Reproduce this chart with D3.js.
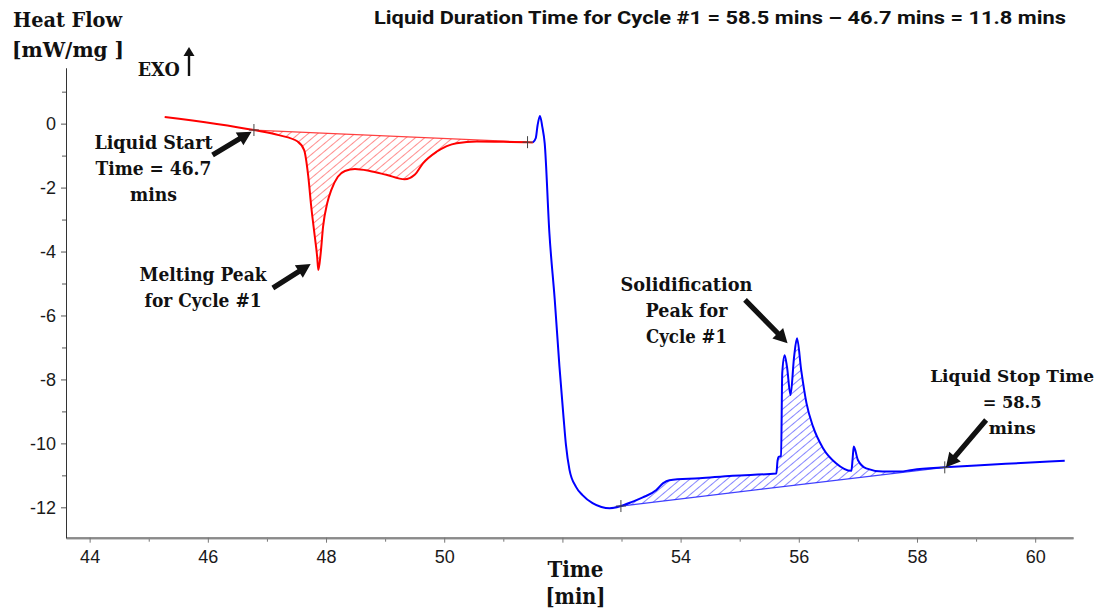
<!DOCTYPE html>
<html>
<head>
<meta charset="utf-8">
<script src="https://cdn.jsdelivr.net/npm/d3@7"></script>
<style>
body { margin: 0; background: white; }
</style>
</head>
<body>
<script>
// heating trace (red) and cooling trace (blue): time [min], heat flow [mW/mg]
let heatTime = [45.27, 46.78, 47.20, 47.52, 47.63, 47.70, 47.75, 47.81, 47.85, 47.87, 47.91, 47.95, 48.02, 48.09, 48.20, 48.32, 48.49, 48.74, 49.02, 49.33, 49.50, 49.64, 49.87, 50.21, 50.55, 51.00, 51.41, 51.50]
let heatFlow = [0.21, -0.20, -0.36, -0.56, -0.83, -1.66, -2.60, -3.53, -4.16, -4.58, -4.05, -3.22, -2.49, -2.07, -1.66, -1.48, -1.42, -1.48, -1.60, -1.74, -1.60, -1.24, -0.88, -0.61, -0.56, -0.57, -0.58, -0.59]

let coolTime = [51.50, 51.55, 51.58, 51.62, 51.66, 51.70, 51.78, 51.87, 51.95, 52.02, 52.06, 52.12, 52.23, 52.34, 52.51, 52.66, 52.80, 52.99, 53.19, 53.36, 53.59, 53.70, 53.81, 54.32, 54.88, 55.62, 55.64, 55.66, 55.70, 55.72, 55.76, 55.80, 55.86, 55.92, 55.97, 56.04, 56.13, 56.24, 56.41, 56.63, 56.89, 56.91, 56.93, 57.00, 57.14, 57.42, 57.71, 57.92, 58.47, 59.00, 59.50, 60.00, 60.50]
let coolFlow = [-0.59, -0.45, -0.05, 0.24, -0.10, -0.61, -3.43, -5.50, -7.60, -9.20, -10.05, -10.83, -11.36, -11.62, -11.87, -11.99, -12.03, -11.96, -11.82, -11.69, -11.46, -11.25, -11.15, -11.09, -11.01, -10.94, -10.55, -10.42, -10.40, -7.80, -7.24, -7.60, -8.49, -7.30, -6.71, -7.70, -8.74, -9.47, -10.15, -10.62, -10.86, -10.50, -10.10, -10.52, -10.78, -10.88, -10.88, -10.83, -10.75, -10.69, -10.64, -10.59, -10.54]

// integration limits (baseline end points) for melting and solidification
let meltLimits = [46.78, 51.41]
let solidLimits = [52.99, 58.47]

let xTicks = [44, 46, 48, 50, 52, 54, 56, 58, 60]
let xTickLabels = ["44", "46", "48", "50", "", "54", "56", "58", "60"]
let xMinorTicks = [45, 47, 49, 51, 53, 55, 57, 59]
let yTicks = [0, -2, -4, -6, -8, -10, -12]
let yTickLabels = ["0", "-2", "-4", "-6", "-8", "-10", "-12"]
let yMinorTicks = [1, -1, -3, -5, -7, -9, -11]

let titleText = "Liquid Duration Time for Cycle #1 = 58.5 mins \u2013 46.7 mins = 11.8 mins"

// annotations: text lines, centre of first line (data coords), arrow tail -> tip (data coords)
let noteLines = [
  ["Liquid Start", "Time = 46.7", "mins"],
  ["Melting Peak", "for Cycle #1"],
  ["Solidification", "Peak for", "Cycle #1"],
  ["Liquid Stop Time", "= 58.5", "mins"]
]
let noteWidths = [[118, 116, 47], [127, 117], [132, 82, 81], [164, 59, 47]]
let noteSizes = [19, 19, 19, 17.5]
let noteAt = [[45.08, -0.79], [45.92, -4.92], [54.10, -5.22], [59.61, -8.09]]
let arrowTail = [[46.08, -0.98], [47.10, -5.14], [55.09, -5.51], [59.17, -9.27]]
let arrowTip = [[46.74, -0.25], [47.74, -4.39], [55.81, -6.87], [58.49, -10.75]]

let serif = "'DejaVu Serif', 'Liberation Serif', serif"

let svg = d3.select("body")
  .append("svg")
  .attr("width", 1108)
  .attr("height", 611)
  .style("background-color", "white")

let x = d3.scaleLinear().domain([43.6, 60.64]).range([66, 1073])
let y = d3.scaleLinear().domain([-12.95, 1.74]).range([537.7, 68])

let defs = svg.append("defs")
function hatch(id, color) {
  defs.append("pattern")
    .attr("id", id)
    .attr("patternUnits", "userSpaceOnUse")
    .attr("width", 6)
    .attr("height", 6)
    .attr("patternTransform", "rotate(50)")
    .append("line")
    .attr("x1", 0).attr("y1", 0)
    .attr("x2", 0).attr("y2", 6)
    .attr("stroke", color)
    .attr("stroke-width", 1)
}
hatch("hatchRed", "#ff2020")
hatch("hatchBlue", "#1010ff")

let heat = heatTime.map((t, i) => ({t: t, v: heatFlow[i]}))
let cool = coolTime.map((t, i) => ({t: t, v: coolFlow[i]}))

function valueAt(data, t) {
  return data.find(d => d.t == t).v
}

function peakArea(data, limits, fillId, color) {
  let v0 = valueAt(data, limits[0])
  let v1 = valueAt(data, limits[1])
  let base = t => v0 + (v1 - v0) * (t - limits[0]) / (limits[1] - limits[0])
  let part = data.filter(d => d.t >= limits[0] && d.t <= limits[1])
  let area = d3.area()
    .x(d => x(d.t))
    .y0(d => y(base(d.t)))
    .y1(d => y(d.v))
    .curve(d3.curveMonotoneX)
  svg.append("path")
    .datum(part)
    .attr("d", area)
    .attr("fill", "url(#" + fillId + ")")
  svg.append("line")
    .attr("x1", x(limits[0])).attr("y1", y(v0))
    .attr("x2", x(limits[1])).attr("y2", y(v1))
    .attr("stroke", color)
    .attr("stroke-width", 1.2)
    .attr("stroke-opacity", 0.85)
}
peakArea(heat, meltLimits, "hatchRed", "#ff2020")
peakArea(cool, solidLimits, "hatchBlue", "#2020ff")

let line = d3.line()
  .x(d => x(d.t))
  .y(d => y(d.v))
  .curve(d3.curveMonotoneX)

svg.append("path")
  .datum(heat)
  .attr("d", line)
  .attr("fill", "none")
  .attr("stroke", "#ff0000")
  .attr("stroke-width", 2)
svg.append("path")
  .datum(cool)
  .attr("d", line)
  .attr("fill", "none")
  .attr("stroke", "#0000ff")
  .attr("stroke-width", 2)

// limit markers
let markers = [
  {t: meltLimits[0], v: valueAt(heat, meltLimits[0])},
  {t: meltLimits[1], v: valueAt(heat, meltLimits[1])},
  {t: solidLimits[0], v: valueAt(cool, solidLimits[0])},
  {t: solidLimits[1], v: valueAt(cool, solidLimits[1])}
]
svg.selectAll("path.marker")
  .data(markers)
  .enter()
  .append("path")
  .attr("class", "marker")
  .attr("d", d => "M" + (x(d.t) - 5) + "," + y(d.v) + "h10M" + x(d.t) + "," + (y(d.v) - 6) + "v12")
  .attr("stroke", "#444")
  .attr("stroke-width", 1)

// axes
let xAxis = d3.axisBottom(x)
  .tickValues(xTicks)
  .tickFormat((d, i) => xTickLabels[i])
  .tickSize(5)
  .tickSizeOuter(0)
  .tickPadding(8)
let xMinor = d3.axisBottom(x).tickValues(xMinorTicks).tickFormat("").tickSize(4).tickSizeOuter(0)
let yAxis = d3.axisLeft(y)
  .tickValues(yTicks)
  .tickFormat((d, i) => yTickLabels[i])
  .tickSize(5)
  .tickSizeOuter(0)
  .tickPadding(5)
let yMinor = d3.axisLeft(y).tickValues(yMinorTicks).tickFormat("").tickSize(4).tickSizeOuter(0)

svg.append("g").attr("class", "x-axis").attr("transform", "translate(0," + 537.7 + ")").call(xMinor)
svg.append("g").attr("class", "x-axis").attr("transform", "translate(0," + 537.7 + ")").call(xAxis)
svg.append("g").attr("class", "y-axis").attr("transform", "translate(66,0)").call(yMinor)
svg.append("g").attr("class", "y-axis").attr("transform", "translate(66,0)").call(yAxis)

svg.selectAll(".x-axis path.domain").attr("stroke", "#8a8a8a").attr("stroke-width", 2)
svg.selectAll(".x-axis .tick line").attr("stroke", "#777")
svg.selectAll(".y-axis path.domain").attr("stroke", "#333").attr("stroke-width", 1)
svg.selectAll(".y-axis .tick line").attr("stroke", "#555")
svg.selectAll(".x-axis text, .y-axis text")
  .attr("font-family", "'Liberation Sans', Arial, sans-serif")
  .attr("font-size", 18)
  .attr("fill", "#1a1a1a")

// axis titles
function label(txt, px, py, len, size, anchor) {
  svg.append("text")
    .attr("x", px)
    .attr("y", py)
    .attr("text-anchor", anchor)
    .attr("font-family", serif)
    .attr("font-weight", "bold")
    .attr("font-size", size)
    .attr("textLength", len)
    .attr("lengthAdjust", "spacingAndGlyphs")
    .attr("fill", "#111")
    .text(txt)
}
label("Heat Flow", 13, 27, 109, 21, "start")
label("[mW/mg ]", 12, 57, 112, 21, "start")
label("EXO", 137.7, 76, 42, 19, "start")
svg.append("line")
  .attr("x1", 189).attr("y1", 76)
  .attr("x2", 189).attr("y2", 54)
  .attr("stroke", "#111")
  .attr("stroke-width", 2.4)
svg.append("path")
  .attr("d", "M183.5,56L189,47L194.5,56Z")
  .attr("fill", "#111")
label("Time", 575.5, 577, 56, 22, "middle")
label("[min]", 575.5, 604, 60, 22, "middle")

svg.append("text")
  .attr("x", 374)
  .attr("y", 24)
  .attr("font-family", "Roboto, 'Liberation Sans', sans-serif")
  .attr("font-weight", "bold")
  .attr("font-size", 19)
  .attr("textLength", 692)
  .attr("lengthAdjust", "spacingAndGlyphs")
  .attr("fill", "#111")
  .text(titleText)

// annotations
noteLines.forEach((lines, k) => {
  lines.forEach((txt, j) => {
    label(txt, x(noteAt[k][0]), y(noteAt[k][1]) + j * 26, noteWidths[k][j], noteSizes[k], "middle")
  })
  let tx = x(arrowTail[k][0]), ty = y(arrowTail[k][1])
  let hx = x(arrowTip[k][0]), hy = y(arrowTip[k][1])
  let len = Math.hypot(hx - tx, hy - ty)
  let ux = (hx - tx) / len, uy = (hy - ty) / len
  let nx = -uy, ny = ux
  let bx = hx - ux * 14, by = hy - uy * 14
  let pts = [
    [tx + nx * 2.6, ty + ny * 2.6],
    [bx + nx * 2.6, by + ny * 2.6],
    [bx + nx * 7.5, by + ny * 7.5],
    [hx, hy],
    [bx - nx * 7.5, by - ny * 7.5],
    [bx - nx * 2.6, by - ny * 2.6],
    [tx - nx * 2.6, ty - ny * 2.6]
  ]
  svg.append("path")
    .attr("d", "M" + pts.map(p => p.join(",")).join("L") + "Z")
    .attr("fill", "#111")
})
</script>
</body>
</html>
